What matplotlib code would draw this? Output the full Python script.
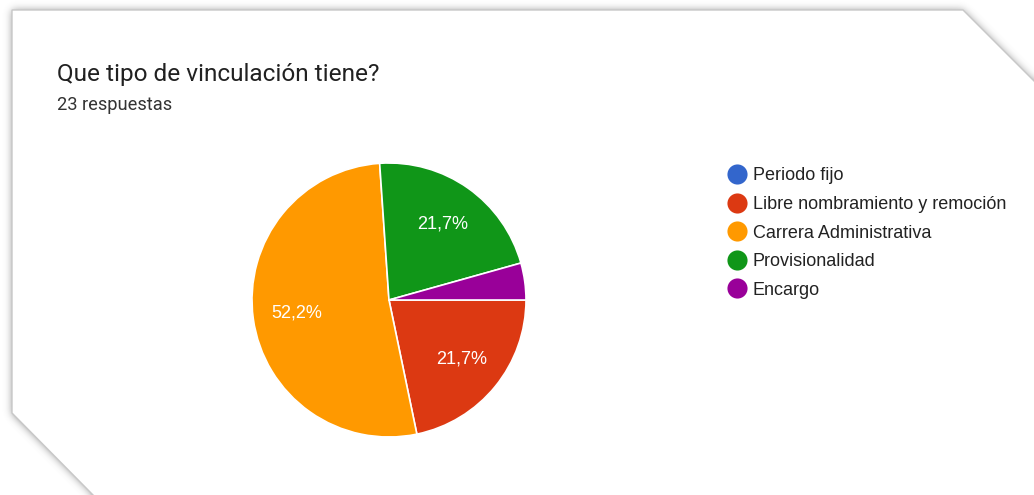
import numpy as np
import matplotlib
matplotlib.use("Agg")
import matplotlib.pyplot as plt
from matplotlib.path import Path
from matplotlib.patches import Polygon

# Survey data
title = "Que tipo de vinculación tiene?"
subtitle = "23 respuestas"
categories = ["Periodo fijo", "Libre nombramiento y remoción",
              "Carrera Administrativa", "Provisionalidad", "Encargo"]
counts = [0, 5, 12, 5, 1]
colors = ["#3366CC", "#DC3912", "#FF9900", "#109618", "#990099"]

W, H = 1034, 495
fig = plt.figure(figsize=(W / 100, H / 100), dpi=100)
ax = fig.add_axes([0, 0, 1, 1])
ax.set_xlim(0, W)
ax.set_ylim(0, H)
ax.axis("off")

plt.rcParams["font.family"] = ["Roboto", "DejaVu Sans"]
chart_font = ["Liberation Sans", "DejaVu Sans"]


def Y(y):
    """Convert a top-down pixel row to data y."""
    return H - y


# Card outline with cut corners
card = [(12, 10), (963, 10), (1040, 87), (1040, 500), (98, 500), (12, 413)]
card_xy = [(x, Y(y)) for x, y in card]

# Soft drop shadow: rasterised mask blurred with a gaussian kernel
yy, xx = np.mgrid[0:H, 0:W]
mask = Path(card_xy).contains_points(
    np.column_stack([xx.ravel() + 0.5, (H - yy.ravel() - 0.5)])
).reshape(H, W).astype(float)
sigma = 4.0
k = np.arange(-14, 15)
kern = np.exp(-k ** 2 / (2 * sigma ** 2))
kern /= kern.sum()
pad = np.pad(mask, 15, mode="edge")
blur = np.apply_along_axis(lambda r: np.convolve(r, kern, mode="same"), 1, pad)
blur = np.apply_along_axis(lambda c: np.convolve(c, kern, mode="same"), 0, blur)
blur = blur[15:-15, 15:-15]
shadow = np.zeros((H, W, 4))
shadow[..., :3] = 0.33
shadow[..., 3] = np.clip(blur * 0.6, 0, 1)
ax.imshow(shadow, extent=(0, W, 0, H), origin="upper", zorder=0, aspect="auto")

ax.add_patch(Polygon(card_xy, closed=True, facecolor="white",
                     edgecolor="#c8c8c8", linewidth=1.0, zorder=1))

fig.canvas.draw()
renderer = fig.canvas.get_renderer()


def fit_size(t, width, base):
    w = t.get_window_extent(renderer).width
    t.set_fontsize(base * width / w)


t = ax.text(57, Y(81), title, fontsize=12, color="#212121", va="baseline", zorder=5)
fit_size(t, 321, 12)
t = ax.text(57, Y(110), subtitle, fontsize=12, color="#333333", va="baseline", zorder=5)
fit_size(t, 115, 12)

# Pie chart, clockwise from 3 o'clock


def pct_label(p):
    return f"{p:.1f}%".replace(".", ",") if p >= 5 else ""


wedges, texts, autotexts = ax.pie(
    counts, colors=colors, startangle=0, counterclock=False,
    center=(389, Y(300)), radius=137, frame=True,
    autopct=pct_label, pctdistance=0.68,
    wedgeprops=dict(edgecolor="white", linewidth=1.2),
    textprops=dict(family=chart_font),
)
for w in wedges:
    w.set_zorder(3)
for t in autotexts:
    t.set_color("white")
    t.set_zorder(4)
    t.set_fontsize(11)
fig.canvas.draw()
for t in autotexts:
    if t.get_text():
        fit_size(t, 51, 11)

ax.set_xlim(0, W)
ax.set_ylim(0, H)
ax.set_aspect("auto")
ax.axis("off")

# Legend
leg_y0, leg_dy = 174, 28.6
leg_texts = []
for i, (name, c) in enumerate(zip(categories, colors)):
    yc = Y(leg_y0 + i * leg_dy)
    ax.scatter([737], [yc], s=210, color=c, zorder=5, linewidths=0)
    leg_texts.append(ax.text(753, yc, name, color="#222222", va="center_baseline",
                             fontsize=12, family=chart_font, zorder=5))
fig.canvas.draw()
longest = max(leg_texts, key=lambda t: t.get_window_extent(renderer).width)
scale = 254 / longest.get_window_extent(renderer).width
for t in leg_texts:
    t.set_fontsize(12 * scale)

fig.savefig("out.png", dpi=100)
